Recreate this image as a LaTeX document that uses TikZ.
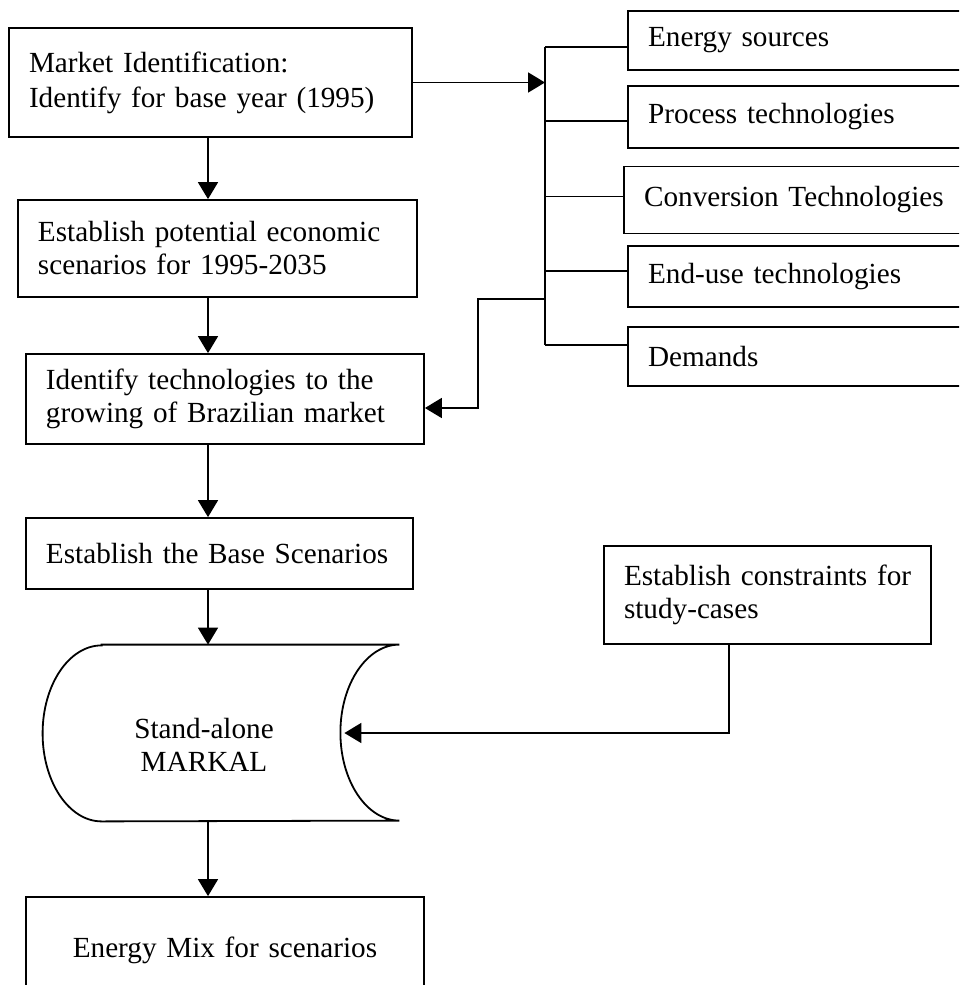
\documentclass[tikz,border=0pt]{standalone}
\usepackage{fontspec}
\setmainfont{Liberation Serif}
\usepackage{tikz}
\usetikzlibrary{arrows.meta,positioning,calc}

\begin{document}
\begin{tikzpicture}[
        x=0.5pt, y=-0.5pt,
        block/.style={rectangle, draw, line width=0.9pt, align=left, inner xsep=10pt, inner ysep=0pt, font=\fontsize{14.6}{16.5}\selectfont},
        arrow/.style={-{Triangle[length=8.5pt,width=10pt]}, line width=0.9pt},
        link/.style={line width=0.9pt}
    ]
        \useasboundingbox (0,0) rectangle (959,985);
        \clip (0,0) rectangle (959,985);

        % Main column
        \node[block, text width=181.5pt, minimum height=54.5pt, font=\fontsize{14.6}{17.5}\selectfont] (market) at (210.5,82.5) {Market Identification:\\Identify for base year (1995)\par\vspace*{5pt}};
        \node[block, text width=179.5pt, minimum height=48.5pt] (potential) at (217.5,248.5) {Establish potential economic\\scenarios for 1995-2035};
        \node[block, text width=179pt, minimum height=45pt] (techs) at (225,399) {Identify technologies to the\\growing of Brazilian market};
        \node[block, text width=173.5pt, minimum height=35.5pt] (base) at (219.5,553.5) {Establish the Base Scenarios\par\vspace*{5pt}};
        \node[rectangle, inner sep=0pt, minimum width=178pt, minimum height=88pt] (markal) at (221,733) {};
        \node[align=center, font=\fontsize{14.6}{16.5}\selectfont] (markaltext) at ($(markal.center)+(-17,12)$) {Stand-alone\\MARKAL};
        \node[block, align=center, text width=179pt, minimum height=53pt] (mix) at (225,950) {Energy Mix for scenarios};

        % Right stack (runs off the right edge)
        \node[block, text width=148pt, minimum height=29.5pt, anchor=north east] (energy) at (965,10) {Energy sources};
        \node[block, text width=148pt, minimum height=31pt, below=7pt of energy.south east, anchor=north east] (process) {Process technologies};
        \node[block, text width=150pt, minimum height=33.5pt, below=8.5pt of process.south east, anchor=north east] (conversion) {\mbox{Conversion Technologies}};
        \node[block, text width=148pt, minimum height=30.5pt, below=5.5pt of conversion.south east, anchor=north east] (enduse) {End-use technologies};
        \node[block, text width=148pt, minimum height=29.5pt, below=9pt of enduse.south east, anchor=north east] (demands) {Demands};
        \node[block, text width=143.5pt, minimum height=49pt] (constraints) at (767.5,595) {\mbox{Establish constraints for}\\study-cases};

        % Stand-alone MARKAL outline
        \draw[link] ($(markal.north west)+(59,0)$) -- (markal.north east)
            arc[start angle=270, end angle=90, x radius=59, y radius=88]
            -- ($(markal.south west)+(59,0)$)
            arc[start angle=90, end angle=270, x radius=59, y radius=88] -- cycle;

        % Arrows
        \coordinate (col) at (208,0);
        \draw[arrow] (market.south -| col) -- (potential.north -| col);
        \draw[arrow] (potential.south -| col) -- (techs.north -| col);
        \draw[arrow] (techs.south -| col) -- (base.north -| col);
        \draw[arrow] (base.south -| col) -- (markal.north -| col);
        \draw[arrow] (markal.south -| col) -- (mix.north -| col);

        % Bus to the right stack
        \coordinate (bus) at (545,0);
        \draw[link] ([yshift=-3.25pt]energy.west -| bus) -- ([yshift=5.75pt]demands.west -| bus);
        \draw[arrow] (market.east) -- (market.east -| bus);
        \foreach \n/\dy in {energy/-3.25, process/-2, conversion/1.75, enduse/2.75, demands/5.75}
            \draw[link] ([yshift=\dy pt]\n.west) -- ([yshift=\dy pt]\n.west -| bus);

        % Feedback and constraints
        \coordinate (bend) at (478,299);
        \draw[arrow] (bend -| bus) -- (bend) |- ([yshift=-4.5pt]techs.east);
        \draw[arrow] ([xshift=-19.25pt]constraints.south) |- ([xshift=-27.5pt]markal.east);

    \end{tikzpicture}
\end{document}
